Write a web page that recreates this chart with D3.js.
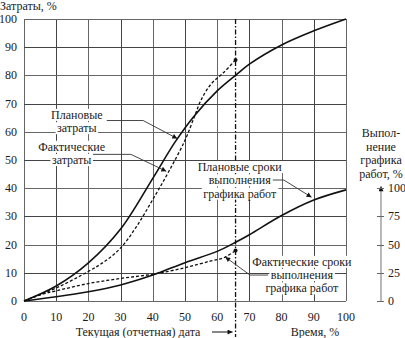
<!DOCTYPE html>
<html><head><meta charset="utf-8">
<script src="https://cdn.jsdelivr.net/npm/d3@7"></script>
<style>body{margin:0;background:#fff}svg{display:block}</style>
</head><body><svg id="c" width="405" height="338" font-family="'Liberation Serif','DejaVu Serif',serif" font-size="12"></svg>
<script>
const xTicks = [0,10,20,30,40,50,60,70,80,90,100];
const yTicks = [0,10,20,30,40,50,60,70,80,90,100];
const rightTicks = [0,25,50,75,100];
const reportDate = 65.7;
const plannedCost = [[0,0],[10,5.3],[20,13.5],[30,25.5],[40,43.5],[47,56.5],[53,65.8],[60,74.5],[66,80.3],[70,84],[80,90.8],[90,95.8],[100,100]];
const actualCost = [[0,0],[10,4.6],[20,10.5],[25,14],[30,18.8],[35,26.5],[40,36],[45,46],[50,57],[53,65.6],[55,71.3],[58,76.8],[62,81],[65.7,85.5]];
const plannedSchedule = [[0,0],[10,1.5],[20,3.3],[30,5.7],[40,9.2],[50,13.6],[60,17.6],[66,21],[70,23.5],[80,30.3],[90,35.8],[100,39.4]];
const actualSchedule = [[0,0],[5,2.2],[10,3.6],[20,6.2],[30,8],[40,9.5],[50,11.8],[58,14.2],[62,15.3],[65.7,17.9]];

const svg = d3.select("#c");
const x = d3.scaleLinear().domain([0,100]).range([24,346]);
const y = d3.scaleLinear().domain([0,100]).range([301,19]);
const yr = d3.scaleLinear().domain([0,100]).range([y(0), y(40)]);
const ink = "#1a1a1a";

// grid
const g = svg.append("g");
g.selectAll(".vx").data(xTicks).join("line")
  .attr("x1",d=>Math.round(x(d))+0.5).attr("x2",d=>Math.round(x(d))+0.5).attr("y1",y(0)).attr("y2",y(100))
  .attr("stroke",(d,i)=>i%2? "#444":"#666").attr("stroke-width",1);
g.selectAll(".hy").data(yTicks).join("line")
  .attr("y1",d=>Math.round(y(d))+0.5).attr("y2",d=>Math.round(y(d))+0.5).attr("x1",x(0)).attr("x2",x(100))
  .attr("stroke",(d,i)=>i%2? "#444":"#666").attr("stroke-width",1);

// tick labels
svg.selectAll(".yl").data(yTicks).join("text").attr("x",17).attr("y",d=>y(d)+4)
  .attr("text-anchor","end").attr("fill",ink).text(d=>d);
svg.selectAll(".xl").data(xTicks).join("text").attr("x",d=>x(d)).attr("y",321)
  .attr("text-anchor","middle").attr("fill",ink).text(d=>d);
svg.append("text").attr("x",0).attr("y",10).attr("fill",ink).text("Затраты, %");
svg.append("text").attr("x",138).attr("y",336).attr("text-anchor","middle").attr("fill",ink).text("Текущая (отчетная) дата");
svg.append("text").attr("x",315).attr("y",336).attr("text-anchor","middle").attr("fill",ink).text("Время, %");

// defs arrow
const defs = svg.append("defs");
defs.append("marker").attr("id","ah").attr("viewBox","0 0 10 10").attr("refX",10).attr("refY",5)
  .attr("markerWidth",7).attr("markerHeight",5).attr("markerUnits","userSpaceOnUse").attr("orient","auto")
  .append("path").attr("d","M0,0L10,5L0,10Z").attr("fill","#111");

// right axis
const ax = 381;
svg.append("line").attr("x1",ax).attr("x2",ax).attr("y1",yr(0)).attr("y2",yr(100)-2)
  .attr("stroke","#888").attr("stroke-width",1.2).attr("marker-end","url(#ah)");
svg.selectAll(".rt").data(rightTicks).join("line").attr("x1",ax-4).attr("x2",ax+3)
  .attr("y1",d=>Math.round(yr(d))+0.5).attr("y2",d=>Math.round(yr(d))+0.5).attr("stroke","#666");
svg.selectAll(".rl").data(rightTicks).join("text").attr("x",388).attr("y",d=>yr(d)+4).attr("fill",ink).text(d=>d);
const rtitle = ["Выпол-","нение","графика","работ, %"];
svg.selectAll(".rtt").data(rtitle).join("text").attr("x",381).attr("y",(d,i)=>137+i*13.7)
  .attr("text-anchor","middle").attr("fill",ink).text(d=>d);

// report date line
svg.append("line").attr("x1",x(reportDate)).attr("x2",x(reportDate)).attr("y1",y(100)).attr("y2",337)
  .attr("stroke","#111").attr("stroke-width",1.3).attr("stroke-dasharray","5,2,1.5,2");
svg.append("line").attr("x1",212).attr("x2",x(reportDate)-3).attr("y1",332).attr("y2",332)
  .attr("stroke","#111").attr("stroke-width",1).attr("marker-end","url(#ah)");

// curves
const line = d3.line().x(d=>x(d[0])).y(d=>y(d[1])).curve(d3.curveCatmullRom.alpha(0.5));
svg.append("path").attr("d",line(plannedCost)).attr("fill","none").attr("stroke","#111").attr("stroke-width",1.6);
svg.append("path").attr("d",line(actualCost)).attr("fill","none").attr("stroke","#111").attr("stroke-width",1.3).attr("stroke-dasharray","3,2");
svg.append("path").attr("d",line(plannedSchedule)).attr("fill","none").attr("stroke","#111").attr("stroke-width",1.6);
svg.append("path").attr("d",line(actualSchedule)).attr("fill","none").attr("stroke","#111").attr("stroke-width",1.3).attr("stroke-dasharray","3,2");
[actualCost, actualSchedule].forEach(s=>{
  const p = s[s.length-1];
  svg.append("circle").attr("cx",x(p[0])).attr("cy",y(p[1])).attr("r",2).attr("fill","#111");
});

// annotations
function label(lines, cx, cy, lh){
  const grp = svg.append("g");
  lines.forEach((t,i)=>{
    const tx = grp.append("text").attr("x",x(cx)).attr("y",y(cy)+i*lh+4).attr("text-anchor","middle").attr("fill",ink).text(t);
    const b = tx.node().getBBox();
    grp.insert("rect","text").attr("x",b.x-1.5).attr("y",b.y+1).attr("width",b.width+3).attr("height",b.height-2).attr("fill","#fff");
  });
}
function leader(pts){
  svg.append("path").attr("d",d3.line().x(d=>x(d[0])).y(d=>y(d[1]))(pts))
    .attr("fill","none").attr("stroke","#333").attr("stroke-width",0.9).attr("marker-end","url(#ah)");
}
leader([[25.7,64],[37,64],[47.6,57.6]]);
leader([[21.4,52],[33.2,52],[44.2,46]]);
leader([[76.9,42.9],[80.7,42.9],[89.3,36.8]]);
leader([[75.8,9.2],[70.2,9.2],[62.5,15.6]]);
label(["Плановые","затраты"],16.4,66,13.3);
label(["Фактические","затраты"],14.8,54.7,13.3);
label(["Плановые сроки","выполнения","графика работ"],67,47.5,13.3);
label(["Фактические сроки","выполнения","графика работ"],86.3,13.9,13.3);
</script></body></html>
